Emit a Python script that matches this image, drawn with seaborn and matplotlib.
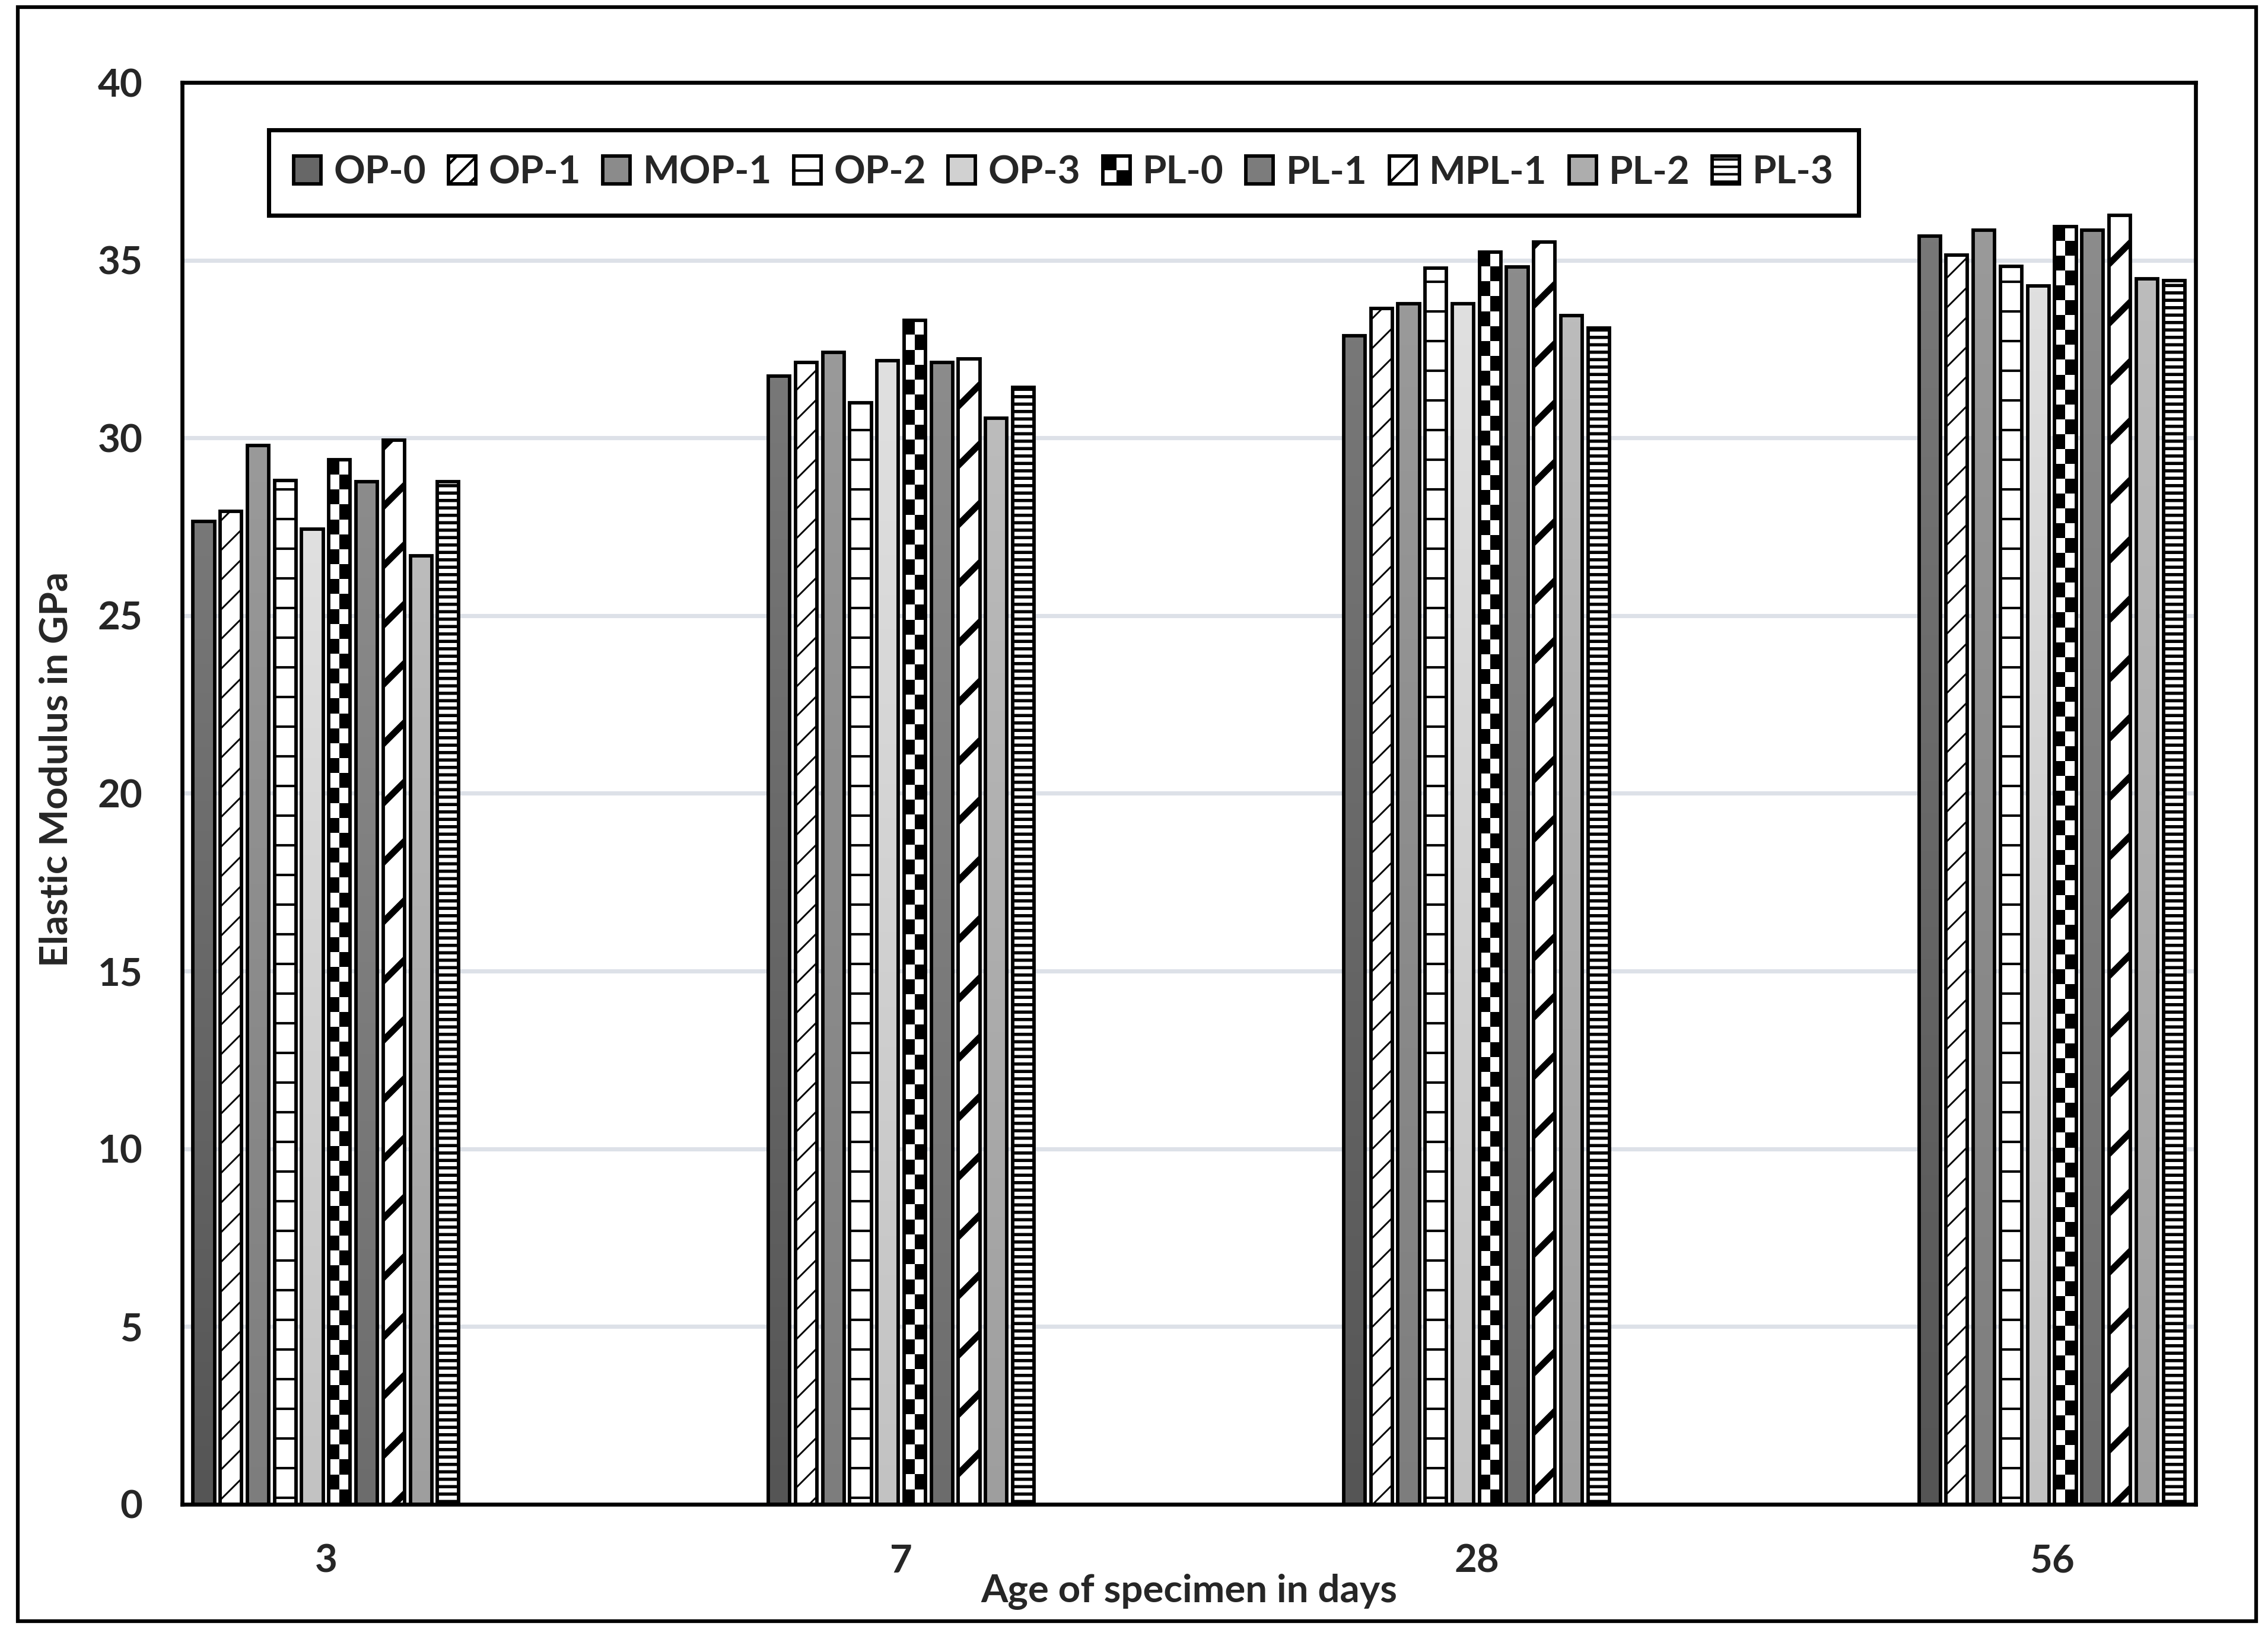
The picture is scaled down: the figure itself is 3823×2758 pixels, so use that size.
import numpy as np
import pandas as pd
import matplotlib
matplotlib.use("Agg")
import matplotlib.pyplot as plt
import seaborn as sns
from matplotlib.patches import Patch, Rectangle
from matplotlib.legend_handler import HandlerBase
from matplotlib.colors import LinearSegmentedColormap

# data (GPa)
ages = ['3', '7', '28', '56']
mixes = ['OP-0', 'OP-1', 'MOP-1', 'OP-2', 'OP-3', 'PL-0', 'PL-1', 'MPL-1', 'PL-2', 'PL-3']
day3 = [27.65, 27.93, 29.79, 28.80, 27.44, 29.38, 28.77, 29.93, 26.69, 28.77]
day7 = [31.74, 32.13, 32.41, 30.99, 32.17, 33.31, 32.13, 32.23, 30.56, 31.42]
day28 = [32.88, 33.64, 33.78, 34.78, 33.78, 35.23, 34.81, 35.51, 33.44, 33.09]
day56 = [35.68, 35.14, 35.85, 34.82, 34.27, 35.95, 35.85, 36.27, 34.48, 34.42]

# look of each series: (top, bottom) gradient for the solid ones
grads = {'OP-0': ('#787878', '#555555'), 'MOP-1': ('#9a9a9a', '#7d7d7d'),
         'OP-3': ('#e0e0e0', '#c2c2c2'), 'PL-1': ('#8c8c8c', '#6c6c6c'),
         'PL-2': ('#bcbcbc', '#9e9e9e')}
hatches = [None, '//', None, '-', None, None, None, '/', None, '----']
hatch_lw = [0, 0.7, 0, 1.0, 0, 0, 0, 2.6, 0, 1.3]
# small legend boxes need denser patterns to show anything
leg_hatches = [None, '///', None, '--', None, None, None, '//', None, '----']
CHECKER = 'PL-0'

rows = []
for age, vals in zip(ages, [day3, day7, day28, day56]):
    for mix, v in zip(mixes, vals):
        rows.append({'age': age, 'mix': mix, 'E': v})
df = pd.DataFrame(rows)

sns.set_style('white')
plt.rcParams['font.family'] = ['Lato', 'DejaVu Sans']
plt.rcParams['font.weight'] = 'bold'
plt.rcParams['hatch.color'] = 'black'
FS = 15.7

fig = plt.figure(figsize=(3823 / 300, 2758 / 300), dpi=300)
ax = fig.add_axes([0.0803, 0.0805, 0.9681 - 0.0803, 0.9496 - 0.0805])


def mid(c1, c2):
    a = np.array(matplotlib.colors.to_rgb(c1))
    b = np.array(matplotlib.colors.to_rgb(c2))
    return tuple((a + b) / 2)


pal = [mid(*grads[m]) if m in grads else 'white' for m in mixes]
sns.barplot(data=df, x='age', y='E', hue='mix', order=ages, hue_order=mixes,
            palette=pal, saturation=1, width=0.472, gap=0.21, errorbar=None,
            edgecolor='black', linewidth=1.4, legend=False, ax=ax)


def set_hlw(p, lw):
    if lw and hasattr(p, 'set_hatch_linewidth'):
        p.set_hatch_linewidth(lw)


def overlay(bar, img, cmap):
    # paint an image inside the bar, below its black outline
    x0, w, ht = bar.get_x(), bar.get_width(), bar.get_height()
    bar.set_facecolor('none')
    im = ax.imshow(img, cmap=cmap, vmin=0, vmax=1, aspect='auto',
                   interpolation='nearest', extent=(x0, x0 + w, 0, ht),
                   zorder=1.9)
    im.set_clip_path(bar)


for cont, mix, h, hl in zip(ax.containers, mixes, hatches, hatch_lw):
    for bar in cont:
        bar.set_zorder(2)
        if h:
            bar.set_hatch(h)
            set_hlw(bar, hl)
        if mix == CHECKER:
            nrows = max(1, int(round(bar.get_height() / 0.42)))
            board = np.indices((nrows, 2)).sum(axis=0) % 2
            overlay(bar, board, 'gray')
        elif mix in grads:
            top, bot = grads[mix]
            cm = LinearSegmentedColormap.from_list(mix, [bot, top])
            overlay(bar, np.linspace(1, 0, 200)[:, None], cm)

ax.set_xlim(-0.25, 3.25)
ax.set_ylim(0, 40)
ax.set_yticks(np.arange(0, 41, 5))
ax.set_axisbelow(True)
ax.yaxis.grid(True, color='#dde1e8', linewidth=1.7)
ax.xaxis.grid(False)
for s in ax.spines.values():
    s.set_visible(True)
    s.set_color('black')
    s.set_linewidth(1.6)
ax.tick_params(axis='both', length=0, labelsize=FS)
ax.tick_params(axis='y', pad=16)
ax.tick_params(axis='x', pad=16)

ax.set_xlabel('Age of specimen in days', fontsize=FS, fontweight='bold')
ax.xaxis.set_label_coords(0.5, -0.069)
ax.xaxis.label.set_va('baseline')
ax.set_ylabel('Elastic Modulus in GPa', fontsize=FS, fontweight='bold')
ax.yaxis.set_label_coords(-0.0625, 0.517)
ax.yaxis.label.set_va('center')


class CheckerHandler(HandlerBase):
    def create_artists(self, legend, orig_handle, xdescent, ydescent,
                       width, height, fontsize, trans):
        x0, y0 = -xdescent, -ydescent
        box = Rectangle((x0, y0), width, height, facecolor='white',
                        edgecolor='black', linewidth=1.4, transform=trans)
        a = Rectangle((x0, y0 + height / 2), width / 2, height / 2,
                      facecolor='black', linewidth=0, transform=trans)
        b = Rectangle((x0 + width / 2, y0), width / 2, height / 2,
                      facecolor='black', linewidth=0, transform=trans)
        return [box, a, b]


handles = []
hmap = {}
for mix, col, h, hl in zip(mixes, pal, leg_hatches, hatch_lw):
    p = Patch(facecolor=col, edgecolor='black', linewidth=1.4, hatch=h, label=mix)
    set_hlw(p, min(hl, 1.2))
    handles.append(p)
    if mix == CHECKER:
        hmap[p] = CheckerHandler()

leg = ax.legend(handles=handles, handler_map=hmap, ncol=10, loc='upper left',
                bbox_to_anchor=(0.043, 0.9666), frameon=True, fancybox=False,
                fontsize=FS, handlelength=0.7, handleheight=0.74,
                handletextpad=0.33, columnspacing=0.57, borderpad=0.65,
                borderaxespad=0)
leg.get_frame().set_edgecolor('black')
leg.get_frame().set_linewidth(1.7)
leg.get_frame().set_alpha(1)
for t in leg.get_texts():
    t.set_fontweight('bold')

# outer chart border
fig.patches.append(Rectangle((0.0078, 0.0091), 0.9948 - 0.0078, 0.9956 - 0.0091,
                             transform=fig.transFigure, fill=False,
                             edgecolor='black', linewidth=1.5))

fig.savefig('out.png', dpi=300)
